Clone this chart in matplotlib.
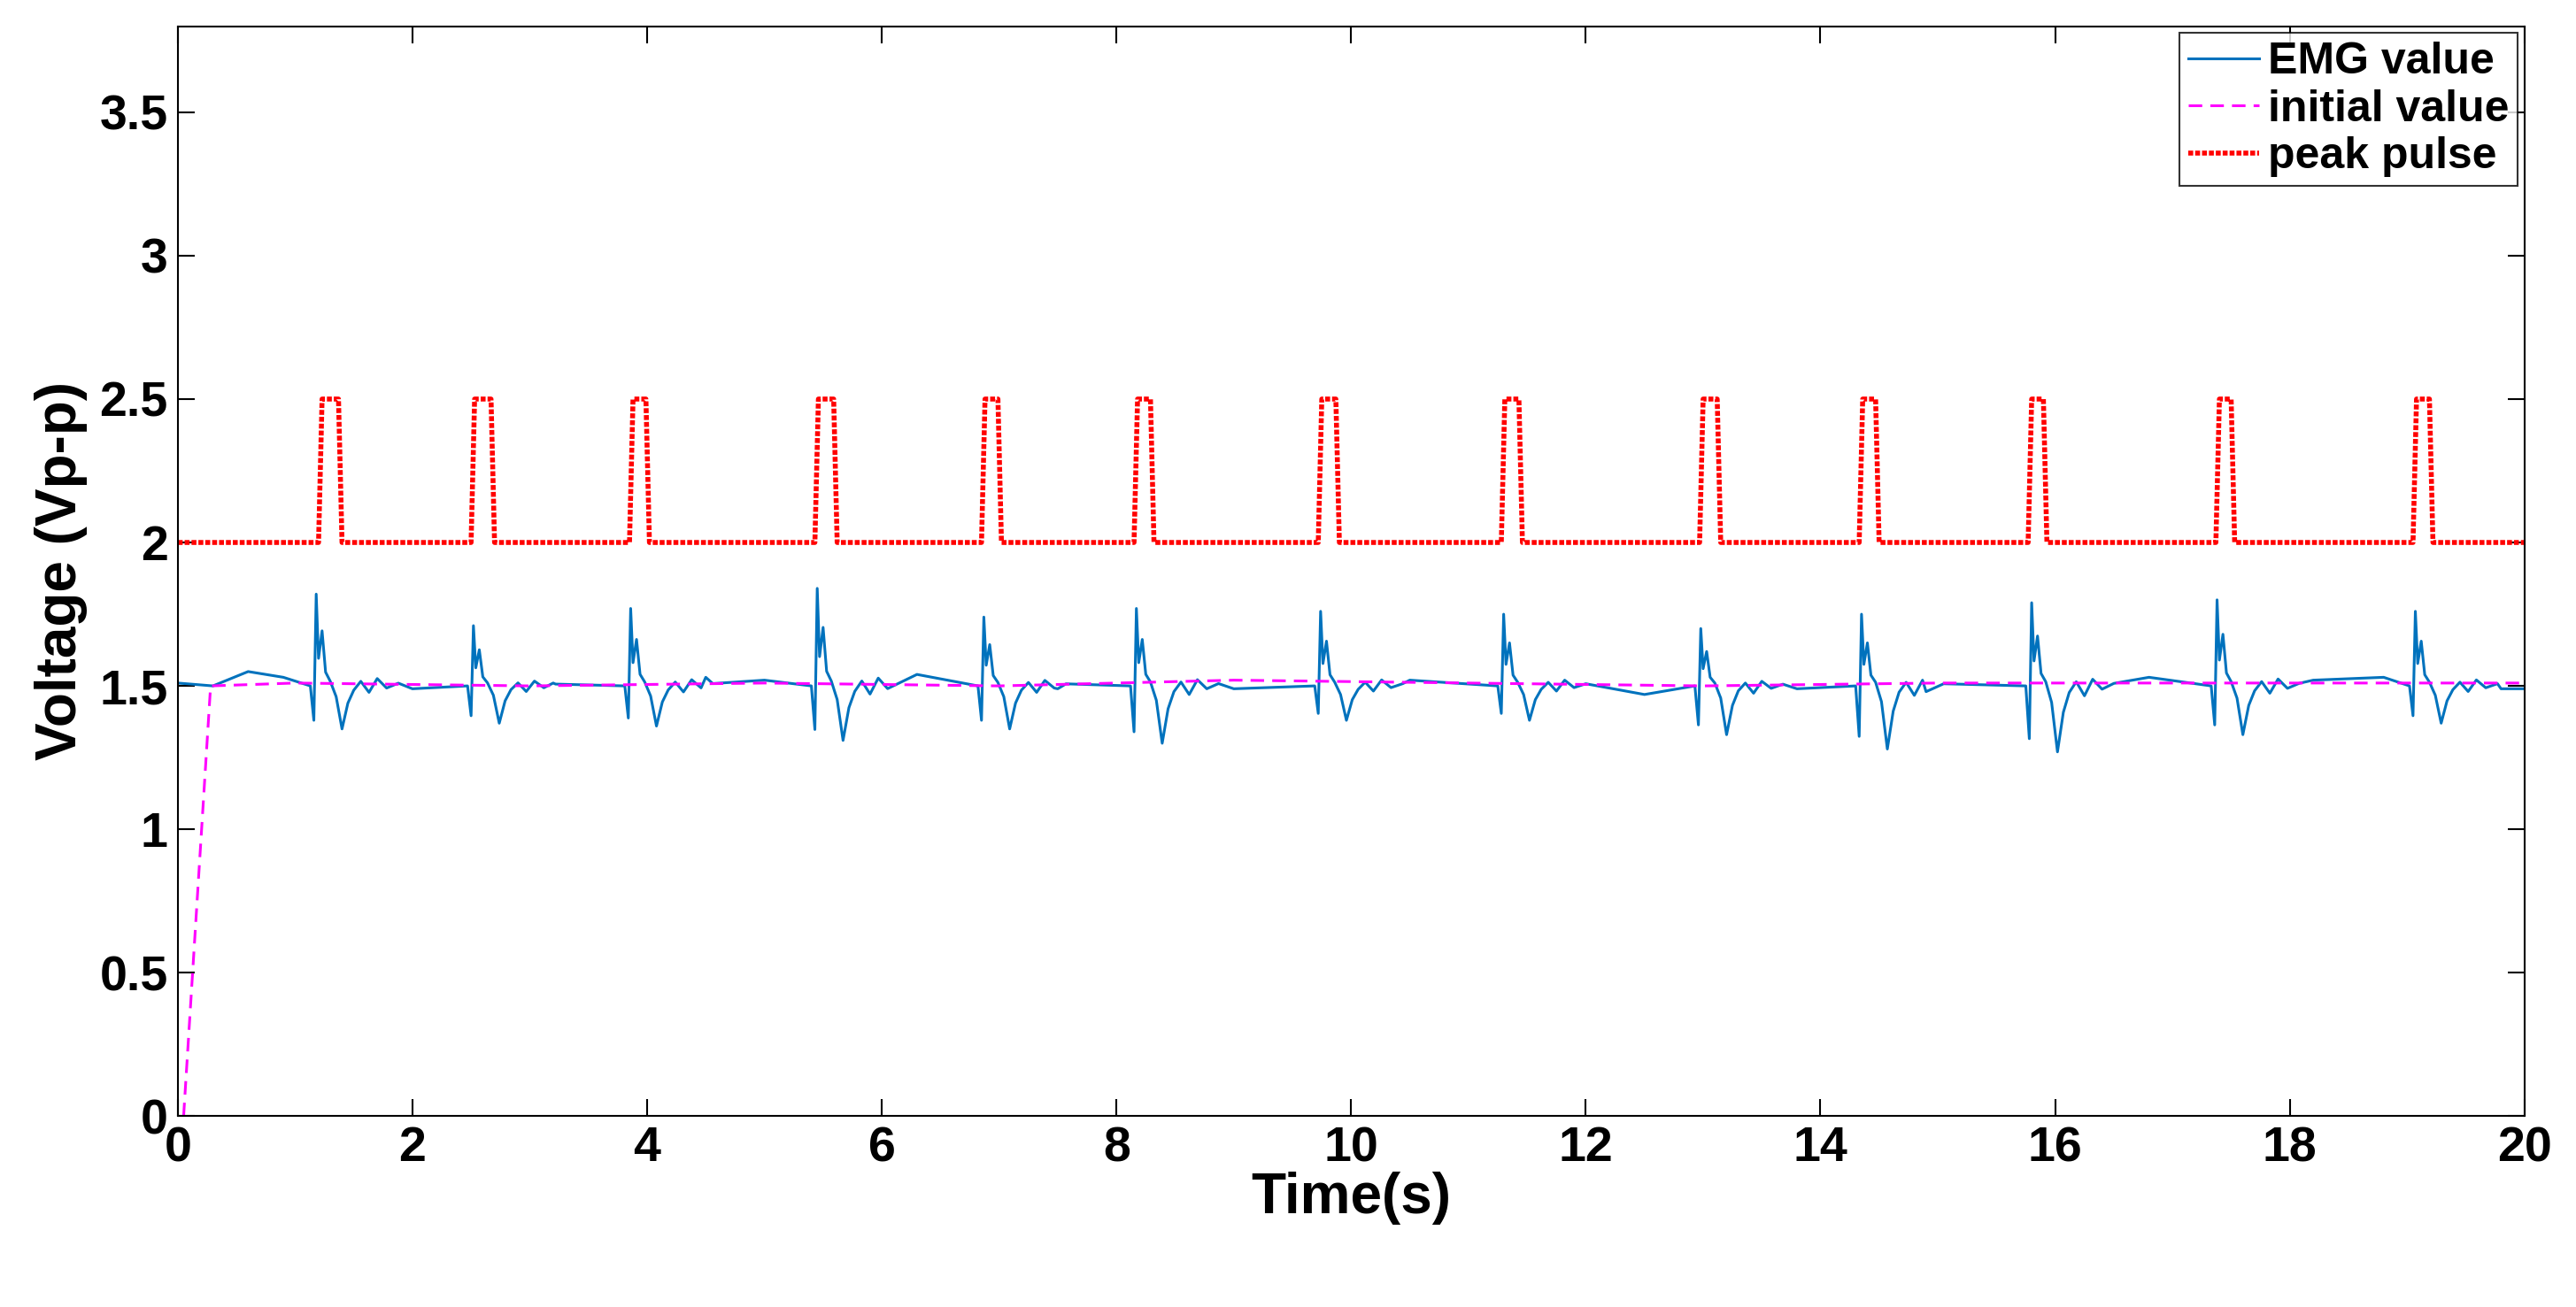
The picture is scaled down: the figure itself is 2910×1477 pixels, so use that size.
import matplotlib
matplotlib.use("Agg")
import matplotlib.pyplot as plt
import numpy as np

plt.rcParams['font.family'] = ['Liberation Sans', 'DejaVu Sans']
plt.rcParams['font.weight'] = 'bold'

# Peak pulse windows (start, end) in seconds
pulse_start = [1.20, 2.50, 3.85, 5.43, 6.85, 8.15, 9.72, 11.28, 12.97, 14.33, 15.77, 17.37, 19.05]
pulse_end   = [1.40, 2.70, 4.02, 5.62, 7.02, 8.32, 9.90, 11.46, 13.15, 14.50, 15.93, 17.53, 19.22]
pulse_low, pulse_high = 2.0, 2.5

# EMG event peaks and troughs
emg_event_t   = [1.18, 2.52, 3.86, 5.45, 6.87, 8.17, 9.74, 11.30, 12.98, 14.35, 15.80, 17.38, 19.07]
emg_event_max = [1.82, 1.71, 1.77, 1.84, 1.74, 1.77, 1.76, 1.75, 1.70, 1.75, 1.79, 1.80, 1.76]
emg_event_min = [1.35, 1.37, 1.36, 1.31, 1.35, 1.30, 1.38, 1.38, 1.33, 1.28, 1.27, 1.33, 1.37]
# hand-read response shape: (offset s, relative level: 1=peak, -1=trough)
shape_dt  = [-0.05, -0.02, 0.00, 0.02, 0.05, 0.08, 0.12, 0.17, 0.22, 0.27, 0.32, 0.38, 0.45, 0.52, 0.60, 0.70]
shape_val = [0.00, -0.8, 1.0, 0.3, 0.6, 0.15, 0.05, -0.25, -1.0, -0.4, -0.1, 0.05, -0.15, 0.08, -0.05, 0.03]

# initial value line
init_t = [0.05, 0.28, 1.0, 3.0, 5.0, 7.0, 9.0, 11.0, 13.0, 15.0, 17.0, 20.0]
init_v = [0.0, 1.50, 1.51, 1.50, 1.51, 1.50, 1.52, 1.51, 1.50, 1.51, 1.51, 1.51]

# EMG baseline drift points
base_t = [0.0, 0.3, 0.6, 0.9, 2.0, 3.2, 4.5, 5.0, 6.3, 7.5, 9.0, 10.5, 12.0, 12.5, 13.8, 14.9, 16.8, 18.2, 18.8, 19.8, 20.0]
base_v = [1.51, 1.50, 1.55, 1.53, 1.49, 1.51, 1.53, 1.52, 1.54, 1.49, 1.49, 1.52, 1.48, 1.47, 1.49, 1.48, 1.53, 1.52, 1.53, 1.49, 1.49]

fig = plt.figure(figsize=(29.10, 14.77), dpi=100)
ax = fig.add_axes([0.069, 0.146, 0.911, 0.834])

pts = {}
for t, v in zip(base_t, base_v):
    pts[t] = v
for te, mx, mn in zip(emg_event_t, emg_event_max, emg_event_min):
    for dt, s in zip(shape_dt, shape_val):
        tt = round(te + dt, 3)
        v = 1.5 + s * (mx - 1.5) if s >= 0 else 1.5 + (-s) * (mn - 1.5)
        pts[tt] = v
emg_t = sorted(pts)
emg_v = [pts[t] for t in emg_t]
ax.plot(emg_t, emg_v, color='#0072BD', lw=2.2, label='EMG value')

ax.plot(init_t, init_v, color='magenta', lw=2.2, ls=(0, (5, 3)), label='initial value')

pt = [0.0]; pv = [pulse_low]
for s, e in zip(pulse_start, pulse_end):
    pt += [s, s + 0.03, e - 0.03, e]
    pv += [pulse_low, pulse_high, pulse_high, pulse_low]
pt.append(20.0); pv.append(pulse_low)
ax.plot(pt, pv, color='red', lw=4, ls=(0, (1, 0.4)), label='peak pulse')

ax.set_xlim(0, 20)
ax.set_ylim(0, 3.8)
ax.set_xticks(np.arange(0, 21, 2))
ax.set_yticks([0, 0.5, 1, 1.5, 2, 2.5, 3, 3.5])
ax.set_yticklabels(['0', '0.5', '1', '1.5', '2', '2.5', '3', '3.5'])
ax.tick_params(direction='in', length=14, width=1.5, labelsize=40, top=True, right=True, pad=8)
for sp in ax.spines.values():
    sp.set_linewidth(1.5)
ax.set_xlabel('Time(s)', fontsize=46, fontweight='bold', labelpad=0)
ax.set_ylabel('Voltage (Vp-p)', fontsize=46, fontweight='bold', labelpad=10)
leg = ax.legend(loc='upper right', fontsize=36, frameon=True, fancybox=False,
                edgecolor='black', borderaxespad=0.15, handlelength=1.6, handletextpad=0.2,
                borderpad=0.2, labelspacing=0.15)
leg.get_frame().set_linewidth(1.5)
fig.savefig('out.png', dpi=100)
